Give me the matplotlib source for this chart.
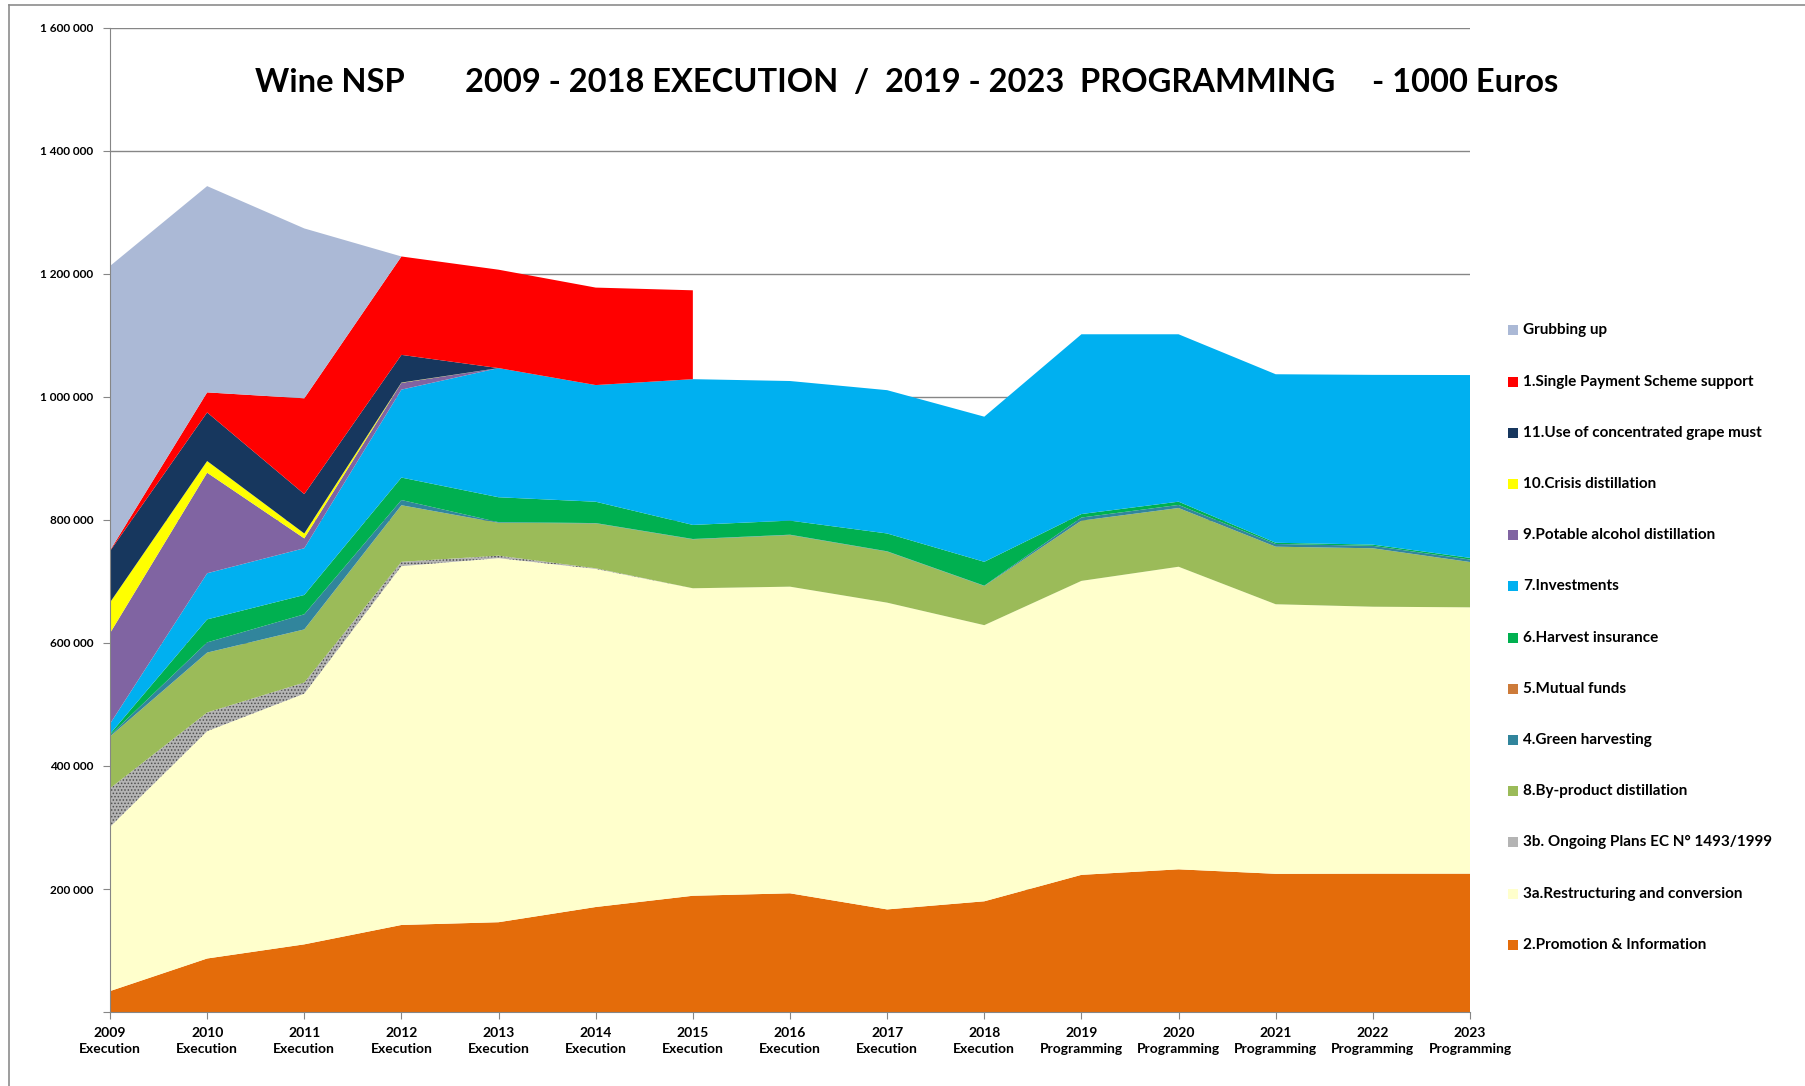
import matplotlib.pyplot as plt
import matplotlib.ticker as mticker
from matplotlib.patches import Rectangle
from matplotlib.lines import Line2D
import numpy as np

plt.rcParams['font.family'] = ['Lato', 'DejaVu Sans']
plt.rcParams['font.weight'] = 'bold'
plt.rcParams['hatch.color'] = '#505050'
plt.rcParams['hatch.linewidth'] = 0.7

W, H = 1805, 1086

years = list(range(2009, 2024))
phase = ['Execution'] * 10 + ['Programming'] * 5
xlabels = [f'{y}\n{p}' for y, p in zip(years, phase)]

# values in 1000 Euros, bottom of the stack first
promotion = [34, 87, 110, 141.5, 146, 170.7, 189, 193, 166.8, 180, 223, 232, 224.7, 225, 225]
restructuring = [267, 369.6, 407.7, 583.5, 592, 549.8, 500, 498.6, 498.8, 449, 478, 492, 438.3, 434, 433]
ongoing_plans = [62.7, 30.4, 18, 7, 4, 1, 0, 0, 0, 0, 0, 0, 0, 0, 0]
by_product = [84.3, 97.4, 86.4, 92, 53.5, 73, 79.6, 84, 83, 63.7, 98, 95.5, 93.6, 95, 73.7]
green_harv = [2, 16.6, 24.6, 8.5, 1, 0.5, 0.5, 0.5, 0.5, 0.5, 5, 5, 4.4, 4, 4]
mutual_funds = [0] * 15
harvest_ins = [2, 37.4, 31.4, 36.5, 40.5, 34.7, 22.9, 22.9, 29, 38.8, 5.7, 5.3, 2, 2, 2.7]
investments = [16.6, 75, 76, 143, 210, 189.7, 237, 227, 233, 236, 292.3, 272.2, 274, 276, 297.3]
potable = [147.4, 163.5, 16, 11, 0, 0, 0, 0, 0, 0, 0, 0, 0, 0, 0]
crisis = [50, 19, 8, 0.5, 0, 0, 0, 0, 0, 0, 0, 0, 0, 0, 0]
grape_must = [83.5, 79, 64, 45, 0, 0, 0, 0, 0, 0, 0, 0, 0, 0, 0]
sps = [1, 32.6, 155.8, 160, 160, 158.5, 144.5] + [np.nan] * 8
grubbing = [462.5, 335.4, 276.2, 0, 0, 0, 0, 0, 0, 0, 0, 0, 0, 0, 0]

series = [promotion, restructuring, ongoing_plans, by_product, green_harv, mutual_funds,
          harvest_ins, investments, potable, crisis, grape_must, sps, grubbing]
labels = ['2.Promotion & Information', '3a.Restructuring and conversion',
          '3b. Ongoing Plans EC N° 1493/1999', '8.By-product distillation',
          '4.Green harvesting', '5.Mutual funds', '6.Harvest insurance',
          '7.Investments', '9.Potable alcohol distillation', '10.Crisis distillation',
          '11.Use of concentrated grape must', '1.Single Payment Scheme support',
          'Grubbing up']
colors = ['#E46C0A', '#FFFFCC', '#B4B4B4', '#9BBB59', '#31859C', '#CD7B3A', '#00B050',
          '#00B0F0', '#8064A2', '#FFFF00', '#17375E', '#FF0000', '#ABB9D6']

fig = plt.figure(figsize=(W / 100, H / 100), dpi=100)
ax = fig.add_axes([110 / W, 1 - 1012 / H, 1360 / W, (1012 - 28) / H])

x = np.arange(len(years))
vals = np.array(series, dtype=float) * 1000
polys = ax.stackplot(x, vals, colors=colors, linewidth=0, zorder=2)
polys[2].set_hatch('.....')

ax.set_xlim(0, len(years) - 1)
ax.set_ylim(0, 1600000)
ax.set_yticks(np.arange(0, 1600001, 200000))
ax.yaxis.set_major_formatter(mticker.FuncFormatter(
    lambda v, p: '' if v == 0 else f'{int(v):,}'.replace(',', ' ')))
ax.set_xticks(x)
ax.set_xticklabels(xlabels, fontsize=10, fontweight='bold', linespacing=1.4)
ax.tick_params(axis='y', labelsize=8.5, length=5, color='#868686', pad=7)
ax.tick_params(axis='x', length=5, color='#868686', pad=6)
ax.yaxis.grid(True, color='#868686', linewidth=1)
ax.set_axisbelow(True)
for s in ['top', 'right']:
    ax.spines[s].set_visible(False)
for s in ['left', 'bottom']:
    ax.spines[s].set_color('#868686')
    ax.spines[s].set_zorder(3)

# title pieces
ty = 1 - 92 / H
fig.text(255 / W, ty, 'Wine NSP', fontsize=23.5, fontweight='bold', ha='left', va='baseline')
fig.text(465 / W, ty, '2009 - 2018 EXECUTION  /  2019 - 2023  PROGRAMMING',
         fontsize=23.5, fontweight='bold', ha='left', va='baseline')
fig.text(1558 / W, ty, '- 1000 Euros', fontsize=23.5, fontweight='bold', ha='right', va='baseline')

# legend, top entry first
for i, (lab, col) in enumerate(zip(labels[::-1], colors[::-1])):
    yc = 330.4 + i * 51.2
    r = Rectangle((1508 / W, 1 - (yc + 5) / H), 10 / W, 10 / H, transform=fig.transFigure,
                  facecolor=col, edgecolor='none')
    if lab.startswith('3b'):
        r.set_hatch('.....')
    fig.patches.append(r)
    fig.text(1523 / W, 1 - yc / H, lab, fontsize=11, fontweight='bold', ha='left', va='center')

# outer chart border (top and left visible)
fig.lines.append(Line2D([9 / W, 1], [1 - 5 / H, 1 - 5 / H], transform=fig.transFigure,
                        color='#8c8c8c', linewidth=1.2))
fig.lines.append(Line2D([9 / W, 9 / W], [0, 1 - 5 / H], transform=fig.transFigure,
                        color='#8c8c8c', linewidth=1.2))

fig.savefig('out.png', dpi=100)
